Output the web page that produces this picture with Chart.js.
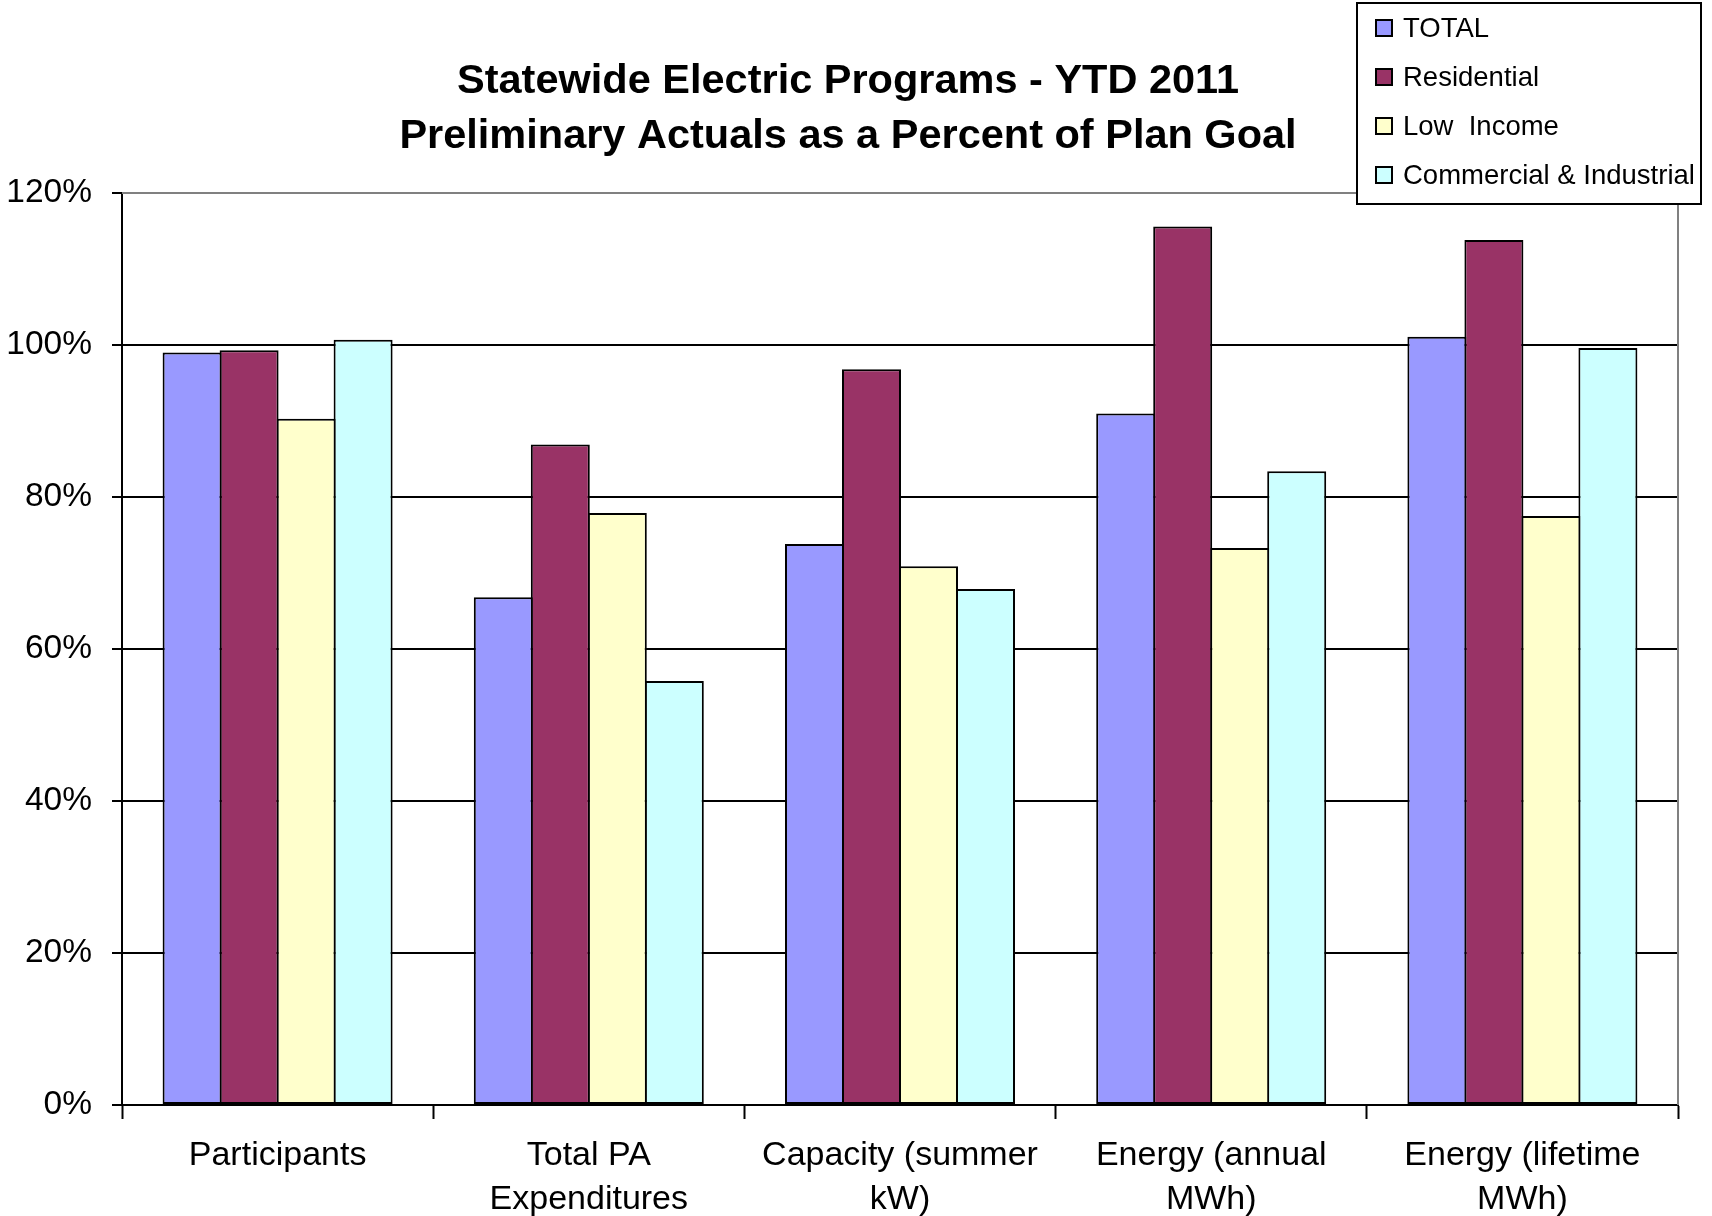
<!DOCTYPE html>
<html>
<head>
<meta charset="utf-8">
<title>Statewide Electric Programs - YTD 2011</title>
<script src="https://cdn.jsdelivr.net/npm/chart.js@4.4.1/dist/chart.umd.min.js"></script>
<style>
  html, body { margin: 0; padding: 0; background: #ffffff; }
  #wrap { width: 1712px; height: 1216px; position: relative; }
</style>
</head>
<body>
<div id="wrap"><canvas id="chart" width="1712" height="1216"></canvas></div>
<script>
// Program metrics (x categories), one label array per category line
const categories = [
  ['Participants'],
  ['Total PA', 'Expenditures'],
  ['Capacity (summer', 'kW)'],
  ['Energy (annual', 'MWh)'],
  ['Energy (lifetime', 'MWh)']
];

// Preliminary actuals as a percent of plan goal
const totalValues       = [99.0, 66.8, 73.8, 91.0, 101.1];
const residentialValues = [99.3, 86.9, 96.8, 115.6, 113.8];
const lowIncomeValues   = [90.3, 77.9, 70.9, 73.3, 77.5];
const commercialValues  = [100.7, 55.8, 67.9, 83.4, 99.6];

const seriesNames = ['TOTAL', 'Residential', 'Low  Income', 'Commercial & Industrial'];
const seriesColors = ['#9999FF', '#993366', '#FFFFCC', '#CCFFFF'];

const yTicks = [0, 20, 40, 60, 80, 100, 120];

const FONT = '"Liberation Sans", Arial, Helvetica, sans-serif';

// Grey frame on the top and right of the plot area
const frameLines = {
  id: 'frameLines',
  beforeDatasetsDraw(chart) {
    const { ctx, chartArea: a } = chart;
    ctx.save();
    ctx.strokeStyle = '#808080';
    ctx.lineWidth = 2;
    ctx.beginPath();
    ctx.moveTo(a.left, a.top);
    ctx.lineTo(a.right, a.top);
    ctx.lineTo(a.right, a.bottom);
    ctx.stroke();
    ctx.restore();
  }
};

// Boxed legend in the top-right corner
const boxLegend = {
  id: 'boxLegend',
  afterDraw(chart) {
    const { ctx } = chart;
    const left = 1357, top = 3, right = 1701, bottom = 204;
    ctx.save();
    ctx.fillStyle = '#ffffff';
    ctx.fillRect(left, top, right - left, bottom - top);
    ctx.strokeStyle = '#000000';
    ctx.lineWidth = 2;
    ctx.strokeRect(left, top, right - left, bottom - top);
    ctx.font = '27.5px ' + FONT;
    ctx.textBaseline = 'middle';
    ctx.textAlign = 'left';
    chart.data.datasets.forEach((ds, i) => {
      const cy = 28 + i * 49;
      ctx.fillStyle = ds.backgroundColor;
      ctx.fillRect(1376, cy - 8, 16, 16);
      ctx.strokeStyle = '#000000';
      ctx.lineWidth = 2;
      ctx.strokeRect(1376, cy - 8, 16, 16);
      ctx.fillStyle = '#000000';
      ctx.fillText(ds.label, 1403, cy + 1);
    });
    ctx.restore();
  }
};

const seriesValues = [totalValues, residentialValues, lowIncomeValues, commercialValues];

const datasets = seriesNames.map((name, i) => ({
  label: name,
  data: seriesValues[i],
  backgroundColor: seriesColors[i],
  borderColor: '#000000',
  borderWidth: 2,
  borderSkipped: false,
  barPercentage: 1.035,
  categoryPercentage: 0.7327
}));

new Chart(document.getElementById('chart'), {
  type: 'bar',
  data: { labels: categories, datasets },
  plugins: [frameLines, boxLegend],
  options: {
    responsive: false,
    animation: false,
    events: [],
    layout: { padding: { left: 0, right: 16, top: 0, bottom: 0 } },
    plugins: {
      legend: { display: false },
      tooltip: { enabled: false },
      title: {
        display: true,
        text: ['Statewide Electric Programs - YTD 2011', 'Preliminary Actuals as a Percent of Plan Goal'],
        color: '#000000',
        font: { family: FONT, size: 41.5, weight: 'bold', lineHeight: '55px' },
        padding: { top: 54, bottom: 29 }
      }
    },
    scales: {
      x: {
        offset: true,
        grid: {
          offset: true,
          drawOnChartArea: false,
          drawTicks: true,
          tickLength: 14,
          tickColor: '#000000',
          tickWidth: 2
        },
        border: { display: true, color: '#000000', width: 2 },
        ticks: {
          color: '#000000',
          font: { family: FONT, size: 34, lineHeight: '44px' },
          padding: 15,
          maxRotation: 0,
          autoSkip: false
        },
        afterFit(scale) { scale.height = 111; }
      },
      y: {
        min: 0,
        max: 120,
        afterBuildTicks(scale) { scale.ticks = yTicks.map(v => ({ value: v })); },
        grid: {
          color: ctx => (ctx.tick && ctx.tick.value === 120 ? '#808080' : '#000000'),
          lineWidth: 2,
          drawTicks: true,
          tickLength: 10,
          tickColor: '#000000',
          tickWidth: 2
        },
        border: { display: true, color: '#000000', width: 2 },
        ticks: {
          color: '#000000',
          font: { family: FONT, size: 33.5 },
          padding: 20,
          callback: v => v + '%'
        },
        afterFit(scale) { scale.width = 122; }
      },
      // blank right-hand margin beside the plot
      margin: {
        type: 'linear',
        position: 'right',
        display: true,
        grid: { display: false },
        border: { display: false },
        ticks: { display: false },
        afterFit(scale) { scale.width = 18; }
      }
    }
  }
});
</script>
</body>
</html>
